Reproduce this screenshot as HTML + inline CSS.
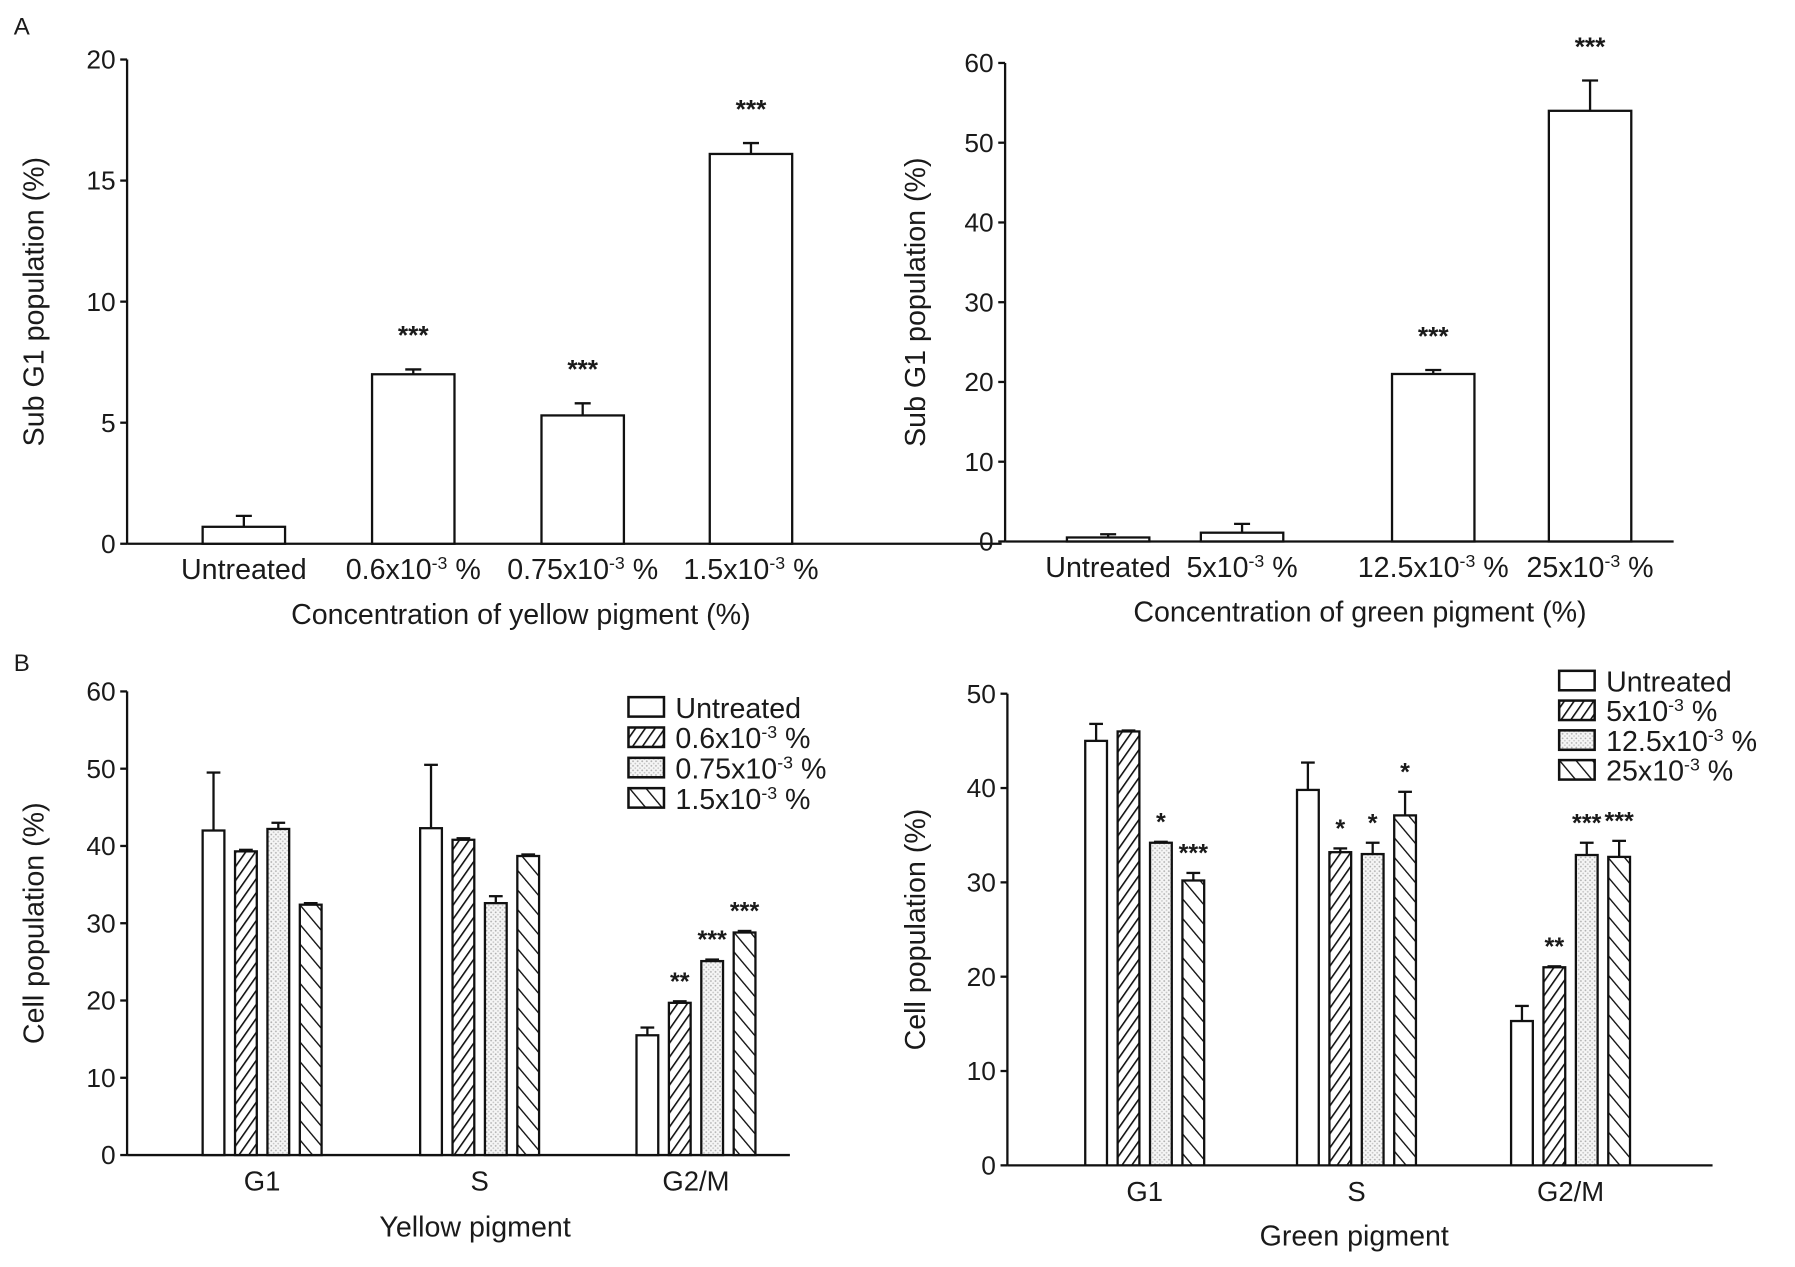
<!DOCTYPE html>
<html><head><meta charset="utf-8"><style>
html,body{margin:0;padding:0;background:#fff}
svg{display:block}
text{font-family:"Liberation Sans",Arial,sans-serif;fill:#1a1a1a}
</style></head><body>
<svg id="fig" width="1795" height="1267" viewBox="0 0 1568 1106.8" xmlns="http://www.w3.org/2000/svg">
<defs>
<pattern id="fwd" patternUnits="userSpaceOnUse" width="7" height="7" patternTransform="rotate(35)"><rect width="7" height="7" fill="#fff"/><line x1="0" y1="0" x2="0" y2="7" stroke="#111" stroke-width="2.8"/></pattern>
<pattern id="dots" patternUnits="userSpaceOnUse" width="4" height="4"><rect width="4" height="4" fill="#f6f6f6"/><circle cx="1" cy="1" r="0.8" fill="#b0b0b0"/><circle cx="3" cy="3" r="0.8" fill="#c8c8c8"/></pattern>
<pattern id="bwd" patternUnits="userSpaceOnUse" width="11" height="11" patternTransform="rotate(-40)"><rect width="11" height="11" fill="#fff"/><line x1="0" y1="0" x2="0" y2="11" stroke="#111" stroke-width="2.4"/></pattern>
</defs>
<text x="12" y="30" font-size="21">A</text>
<text x="12" y="586" font-size="21">B</text>
</svg>
<script>
// Panel A left: yellow pigment sub G1
const yA_cats = ["Untreated","0.6x10|-3| %","0.75x10|-3| %","1.5x10|-3| %"];
const yA_vals = [0.7, 7.0, 5.3, 16.1];
const yA_errs = [0.45, 0.2, 0.5, 0.45];
const yA_stars = ["", "***", "***", "***"];
const yA_ticks = [0, 5, 10, 15, 20];
// Panel A right: green pigment sub G1
const gA_cats = ["Untreated","5x10|-3| %","12.5x10|-3| %","25x10|-3| %"];
const gA_vals = [0.5, 1.1, 21.0, 54.0];
const gA_errs = [0.4, 1.1, 0.5, 3.8];
const gA_stars = ["", "", "***", "***"];
const gA_ticks = [0, 10, 20, 30, 40, 50, 60];
// Panel B left: yellow pigment cell cycle
const yB_phases = ["G1","S","G2/M"];
const yB_series = ["Untreated","0.6x10|-3| %","0.75x10|-3| %","1.5x10|-3| %"];
const yB_untreated = [42.0, 42.3, 15.5];
const yB_s2 = [39.3, 40.8, 19.7];
const yB_s3 = [42.2, 32.6, 25.1];
const yB_s4 = [32.4, 38.7, 28.8];
const yB_err1 = [7.5, 8.2, 1.0];
const yB_err2 = [0.2, 0.2, 0.2];
const yB_err3 = [0.8, 0.9, 0.2];
const yB_err4 = [0.2, 0.2, 0.2];
const yB_stars = [["","","",""],["","","",""],["","**","***","***"]];
const yB_ticks = [0,10,20,30,40,50,60];
// Panel B right: green pigment cell cycle
const gB_phases = ["G1","S","G2/M"];
const gB_series = ["Untreated","5x10|-3| %","12.5x10|-3| %","25x10|-3| %"];
const gB_untreated = [45.0, 39.8, 15.3];
const gB_s2 = [46.0, 33.2, 21.0];
const gB_s3 = [34.2, 33.0, 32.9];
const gB_s4 = [30.2, 37.1, 32.7];
const gB_err1 = [1.8, 2.9, 1.6];
const gB_err2 = [0.1, 0.4, 0.1];
const gB_err3 = [0.1, 1.2, 1.3];
const gB_err4 = [0.8, 2.5, 1.7];
const gB_stars = [["","","*","***"],["","*","*","*"],["","**","***","***"]];
const gB_ticks = [0,10,20,30,40,50];

const NS="http://www.w3.org/2000/svg";
const svg=document.getElementById('fig');
function mk(tag,attrs,parent){const e=document.createElementNS(NS,tag);for(const k in attrs)e.setAttribute(k,attrs[k]);(parent||svg).appendChild(e);return e;}
function label(str,x,y,size,anchor,parent){
  const t=mk('text',{x:x,y:y,'font-size':size,'text-anchor':anchor||'middle'},parent);
  const parts=str.split('|');
  parts.forEach((p,i)=>{const ts=mk('tspan',{},t);if(i===1){ts.setAttribute('baseline-shift','super');ts.setAttribute('font-size',size*0.62);}ts.textContent=p;});
  return t;
}
const fills=["#fff","url(#fwd)","url(#dots)","url(#bwd)"];

function axes(g,x0,xEnd,yBase,yTop,ticks,max,ytitle,ytx){
  const sy=v=>yBase-(v/max)*(yBase-yTop);
  const ax=mk('g',{},g);
  
  
  mk('line',{x1:x0,y1:yTop,x2:x0,y2:yBase,stroke:'#111','stroke-width':2},ax);
  ticks.forEach(t=>{
    mk('line',{x1:x0-6,y1:sy(t),x2:x0,y2:sy(t),stroke:'#111','stroke-width':2},ax);
    const tl=mk('text',{x:x0-10,y:sy(t)+8,'font-size':23,'text-anchor':'end'},ax);
    
    
    tl.textContent=t;
  });
  const xa=mk('line',{x1:x0,y1:yBase,x2:xEnd,y2:yBase,stroke:'#111','stroke-width':2},g);
  
  
  const yt=mk('text',{x:0,y:0,'font-size':25,'text-anchor':'middle',transform:`translate(${ytx},${(yBase+yTop)/2}) rotate(-90)`},g);
  
  
  yt.textContent=ytitle;
  return sy;
}
function errBar(g,cx,top,e,sy,hw){
  if(e<=0)return;
  mk('line',{x1:cx,y1:sy(top),x2:cx,y2:sy(top+e),stroke:'#111','stroke-width':2},g);
  mk('line',{x1:cx-hw,y1:sy(top+e),x2:cx+hw,y2:sy(top+e),stroke:'#111','stroke-width':2},g);
}

function simpleChart(name,cats,vals,errs,stars,ticks,max,x0,xEnd,yBase,yTop,centers,bw,ytitle,xtitle,xtx,ytx){
  const g=mk('g',{});
  
  
  const sy=axes(g,x0,xEnd,yBase,yTop,ticks,max,ytitle,ytx);
  cats.forEach((c,i)=>{
    const cx=centers[i];
    const r=mk('rect',{x:cx-bw/2,y:sy(vals[i]),width:bw,height:yBase-sy(vals[i]),fill:'#fff',stroke:'#111','stroke-width':2},g);
    
    
    errBar(g,cx,vals[i],errs[i],sy,7);
    if(stars[i]){const s=mk('text',{x:cx,y:sy(vals[i]+errs[i])-22,'font-size':23,'font-weight':'bold','text-anchor':'middle',fill:'#444'},g);
      
      
      s.textContent=stars[i];}
    const l=label(c,cx,yBase+31,25,'middle',g);
    
    
  });
  const xt=mk('text',{x:xtx,y:yBase+70,'font-size':25,'text-anchor':'middle'},g);
  
  
  xt.textContent=xtitle;
}

function groupChart(name,phases,series,valsArr,errsArr,stars,ticks,max,x0,xEnd,yBase,yTop,groupStarts,step,bw,ytitle,xtitle,xtx,xty,ytx,legX,legY,legStep){
  const g=mk('g',{});
  
  
  const sy=axes(g,x0,xEnd,yBase,yTop,ticks,max,ytitle,ytx);
  phases.forEach((p,pi)=>{
    valsArr.forEach((vals,si)=>{
      const x=groupStarts[pi]+si*step;
      const r=mk('rect',{x:x,y:sy(vals[pi]),width:bw,height:yBase-sy(vals[pi]),fill:fills[si],stroke:'#111','stroke-width':2},g);
      
      
      errBar(g,x+bw/2,vals[pi],errsArr[si][pi],sy,6);
      if(stars[pi][si]){const s=mk('text',{x:x+bw/2,y:sy(vals[pi]+errsArr[si][pi])-10,'font-size':22,'font-weight':'bold','text-anchor':'middle',fill:'#444'},g);
        
        
        s.textContent=stars[pi][si];}
    });
    const cx=groupStarts[pi]+(step*3+bw)/2;
    const l=mk('text',{x:cx,y:yBase+31,'font-size':24,'text-anchor':'middle'},g);
    
    
    l.textContent=p;
  });
  const xt=mk('text',{x:xtx,y:xty,'font-size':25,'text-anchor':'middle'},g);
  
  
  xt.textContent=xtitle;
  series.forEach((s,si)=>{
    const le=mk('g',{},g);
    
    
    const y=legY+si*legStep;
    mk('rect',{x:legX,y:y-9,width:31,height:17,fill:fills[si],stroke:'#111','stroke-width':2.2},le);
    label(s,legX+41,y+9,25,'start',le);
  });
}

simpleChart('chart-yellow-subg1',yA_cats,yA_vals,yA_errs,yA_stars,yA_ticks,20,111,875,475,52,[213,361,509,656],72,'Sub G1 population (%)','Concentration of yellow pigment (%)',455,38);
simpleChart('chart-green-subg1',gA_cats,gA_vals,gA_errs,gA_stars,gA_ticks,60,878,1462,473,55,[968,1085,1252,1389],72,'Sub G1 population (%)','Concentration of green pigment (%)',1188,808);
groupChart('chart-yellow-cellcycle',yB_phases,yB_series,[yB_untreated,yB_s2,yB_s3,yB_s4],[yB_err1,yB_err2,yB_err3,yB_err4],yB_stars,yB_ticks,60,111,690,1009,604,[177,367,556],28.3,19,'Cell population (%)','Yellow pigment',415,1080,38,549,618,26.5);
groupChart('chart-green-cellcycle',gB_phases,gB_series,[gB_untreated,gB_s2,gB_s3,gB_s4],[gB_err1,gB_err2,gB_err3,gB_err4],gB_stars,gB_ticks,50,880,1496,1018,606,[948,1133,1320],28.3,19,'Cell population (%)','Green pigment',1183,1088,808,1362,595,26);
</script>
</body></html>
